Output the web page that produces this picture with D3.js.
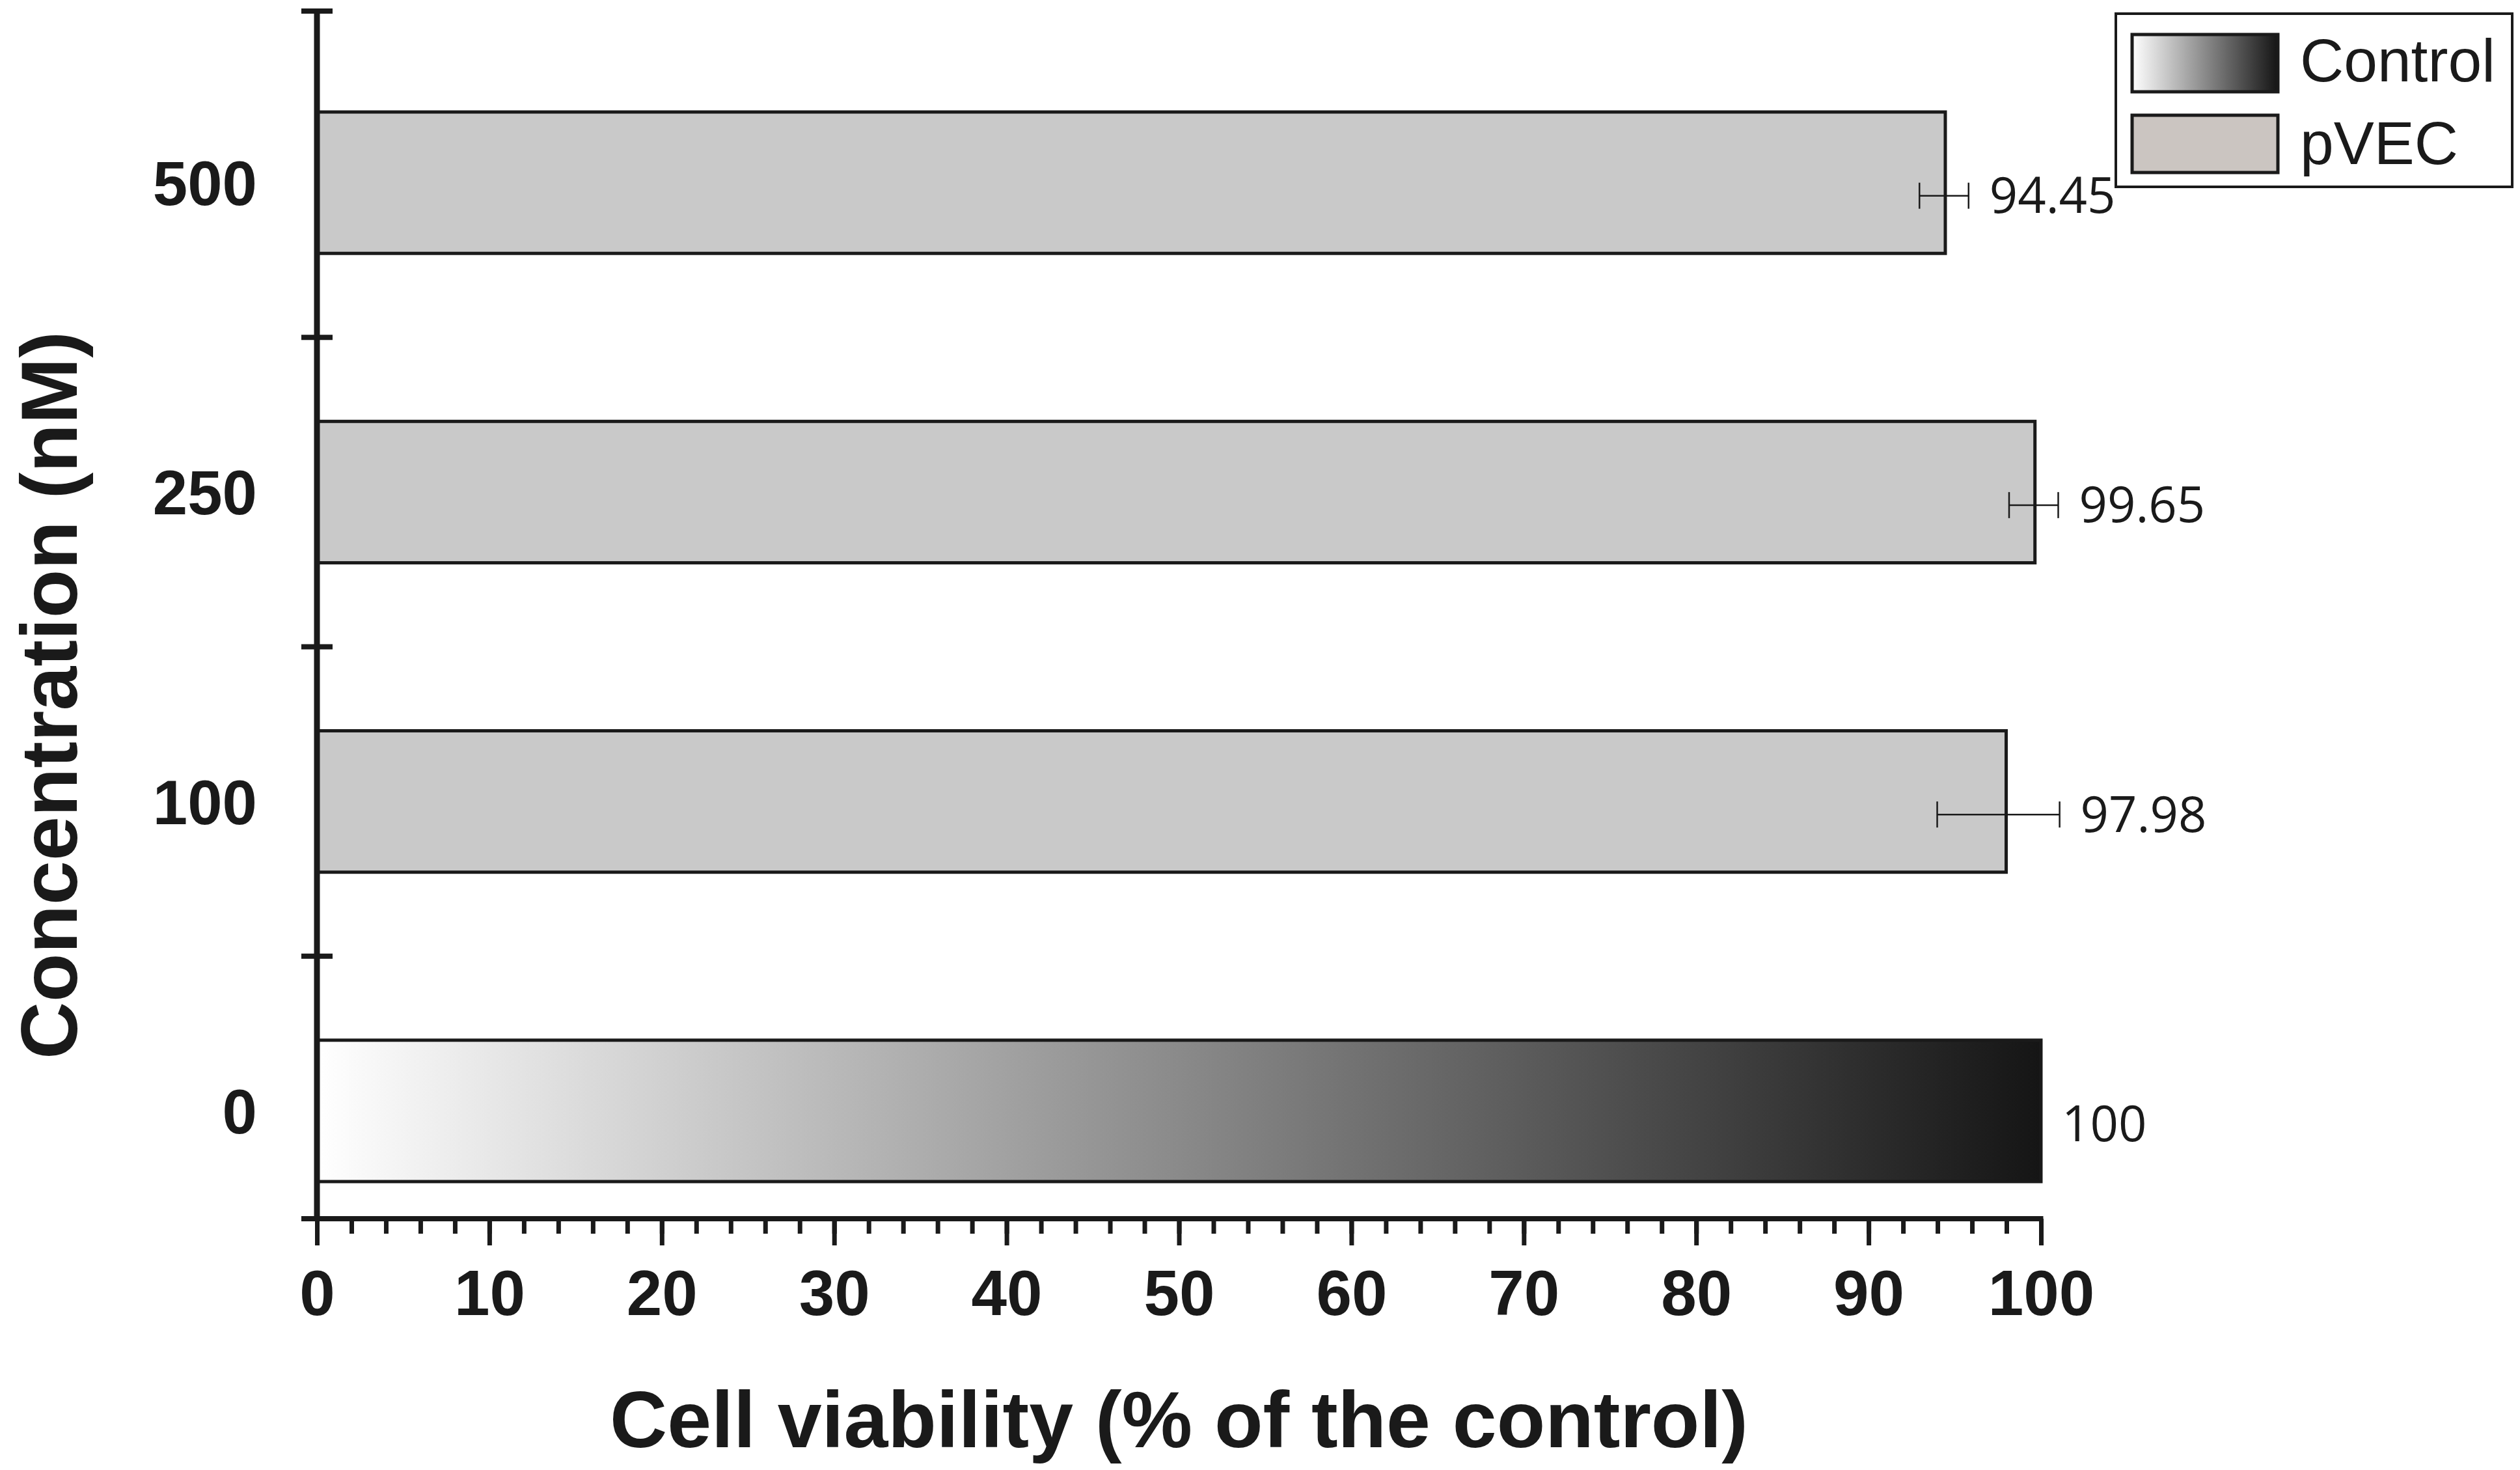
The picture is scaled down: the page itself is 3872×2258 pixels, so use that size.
<!DOCTYPE html>
<html>
<head>
<meta charset="utf-8">
<script src="https://cdn.jsdelivr.net/npm/d3@7"></script>
<style>
  html, body { margin: 0; padding: 0; background: #fff; }
  svg { display: block; }
</style>
</head>
<body>
<div id="chart"></div>
<script>
// concentrations in nM, top to bottom as drawn
const concentrations = ["500", "250", "100", "0"];
const viability = [94.45, 99.65, 97.98, 100];
const errMinus = [1.5, 1.5, 4.0, 0];
const errPlus = [1.35, 1.35, 3.1, 0];
const groups = ["pVEC", "pVEC", "pVEC", "Control"];
const legendItems = ["Control", "pVEC"];
const xTicks = [0, 10, 20, 30, 40, 50, 60, 70, 80, 90, 100];

const W = 3872, H = 2258;
const ink = "#1a1a1a";
const boldFont = "'Liberation Sans', Arial, Helvetica, sans-serif";

const svg = d3.select("#chart").append("svg")
    .attr("width", W)
    .attr("height", H);
svg.append("rect").attr("width", W).attr("height", H).attr("fill", "#fff");

// gradient for the control bar
const grad = svg.append("defs").append("linearGradient")
    .attr("id", "ctrlGrad")
    .attr("x1", "0%").attr("x2", "100%").attr("y1", "0%").attr("y2", "0%");
grad.append("stop").attr("offset", "0%").attr("stop-color", "#ffffff");
grad.append("stop").attr("offset", "100%").attr("stop-color", "#151515");

const x = d3.scaleLinear().domain([0, 100]).range([487, 3136]);
const y = d3.scaleBand()
    .domain(concentrations)
    .range([43, 1944])
    .paddingInner(0.543)
    .paddingOuter(0.2715);
const axisY = 1872, axisTop = 17;

const rows = concentrations.map(function (c, i) {
    return {c: c, v: viability[i], lo: errMinus[i], hi: errPlus[i], g: groups[i]};
});

// bars
svg.selectAll("rect.bar")
    .data(rows)
    .join("rect")
    .attr("class", "bar")
    .attr("x", x(0))
    .attr("y", function (d) { return y(d.c); })
    .attr("width", function (d) { return x(d.v) - x(0); })
    .attr("height", y.bandwidth())
    .attr("fill", function (d) { return d.g === "Control" ? "url(#ctrlGrad)" : "#c9c9c9"; })
    .attr("stroke", ink)
    .attr("stroke-width", 5);

// error bars
const errRows = rows.filter(function (d) { return d.hi > 0 || d.lo > 0; });
const ey = function (d) { return y(d.c) + y.bandwidth() / 2 + 20; };
const eg = svg.append("g").attr("stroke", ink).attr("stroke-width", 2.5);
eg.selectAll("line.err").data(errRows).join("line")
    .attr("x1", function (d) { return x(d.v - d.lo); })
    .attr("x2", function (d) { return x(d.v + d.hi); })
    .attr("y1", ey).attr("y2", ey);
eg.selectAll("line.capL").data(errRows).join("line")
    .attr("x1", function (d) { return x(d.v - d.lo); })
    .attr("x2", function (d) { return x(d.v - d.lo); })
    .attr("y1", function (d) { return ey(d) - 20; })
    .attr("y2", function (d) { return ey(d) + 20; });
eg.selectAll("line.capR").data(errRows).join("line")
    .attr("x1", function (d) { return x(d.v + d.hi); })
    .attr("x2", function (d) { return x(d.v + d.hi); })
    .attr("y1", function (d) { return ey(d) - 20; })
    .attr("y2", function (d) { return ey(d) + 20; });

// value labels
svg.selectAll("text.val").data(rows).join("text")
    .attr("class", "val")
    .attr("x", function (d) { return x(d.v + d.hi) + 32; })
    .attr("y", ey)
    .attr("dy", "0.35em")
    .attr("font-family", "'Open Sans', sans-serif")
    .attr("font-size", 76)
    .attr("fill", ink)
    .text(function (d) { return String(d.v); });

// x axis: minor ticks
const gMinor = svg.append("g").attr("transform", "translate(0," + axisY + ")");
gMinor.call(d3.axisBottom(x).tickValues(d3.range(0, 101, 2)).tickSize(23).tickSizeOuter(0).tickFormat(""));
gMinor.select(".domain").remove();
gMinor.selectAll("line").attr("stroke", ink).attr("stroke-width", 7);

// x axis: major ticks + labels
const gx = svg.append("g").attr("transform", "translate(0," + axisY + ")");
gx.call(d3.axisBottom(x).tickValues(xTicks).tickSize(41).tickSizeOuter(0));
gx.select(".domain").remove();
gx.selectAll("line").attr("stroke", ink).attr("stroke-width", 7);
gx.selectAll("text")
    .attr("y", 2020 - axisY)
    .attr("dy", 0)
    .attr("fill", ink)
    .attr("font-family", boldFont)
    .attr("font-weight", "bold")
    .attr("font-size", 98);

svg.append("line")
    .attr("x1", x(0) - 24).attr("x2", x(100) + 3.5)
    .attr("y1", axisY).attr("y2", axisY)
    .attr("stroke", ink).attr("stroke-width", 8);

// y axis
svg.append("line")
    .attr("x1", x(0)).attr("x2", x(0))
    .attr("y1", axisTop).attr("y2", axisY + 4)
    .attr("stroke", ink).attr("stroke-width", 9);

const yTickPos = [axisTop].concat(concentrations.slice(1).map(function (c) {
    return y(c) - y.step() * y.paddingInner() / 2;
}));
svg.selectAll("line.ytick").data(yTickPos).join("line")
    .attr("class", "ytick")
    .attr("x1", x(0) - 24).attr("x2", x(0) + 24)
    .attr("y1", function (d) { return d; }).attr("y2", function (d) { return d; })
    .attr("stroke", ink).attr("stroke-width", 8);

svg.selectAll("text.cat").data(concentrations).join("text")
    .attr("class", "cat")
    .attr("x", 395)
    .attr("y", function (d) { return y(d) + y.bandwidth() / 2; })
    .attr("dy", "0.36em")
    .attr("text-anchor", "end")
    .attr("font-family", boldFont)
    .attr("font-weight", "bold")
    .attr("font-size", 96)
    .attr("fill", ink)
    .text(function (d) { return d; });

// axis titles
svg.append("text")
    .attr("x", (x(0) + x(100)) / 2)
    .attr("y", 2223)
    .attr("text-anchor", "middle")
    .attr("font-family", boldFont)
    .attr("font-weight", "bold")
    .attr("font-size", 122)
    .attr("fill", ink)
    .text("Cell viability (% of the control)");

svg.append("text")
    .attr("transform", "translate(118,1068)rotate(-90)")
    .attr("text-anchor", "middle")
    .attr("font-family", boldFont)
    .attr("font-weight", "bold")
    .attr("font-size", 122)
    .attr("fill", ink)
    .text("Concentration (nM)");

// legend
const lg = svg.append("g");
lg.append("rect")
    .attr("x", 3251).attr("y", 21).attr("width", 609).attr("height", 266)
    .attr("fill", "#fff").attr("stroke", ink).attr("stroke-width", 4);
lg.selectAll("rect.sw").data(legendItems).join("rect")
    .attr("class", "sw")
    .attr("x", 3276)
    .attr("y", function (d, i) { return 53 + i * 124; })
    .attr("width", 224).attr("height", 88)
    .attr("fill", function (d) { return d === "Control" ? "url(#ctrlGrad)" : "#cbc5c1"; })
    .attr("stroke", ink).attr("stroke-width", 5);
lg.selectAll("text").data(legendItems).join("text")
    .attr("x", 3534)
    .attr("y", function (d, i) { return 125 + i * 127; })
    .attr("font-family", boldFont)
    .attr("font-size", 93)
    .attr("fill", ink)
    .text(function (d) { return d; });
</script>
</body>
</html>
